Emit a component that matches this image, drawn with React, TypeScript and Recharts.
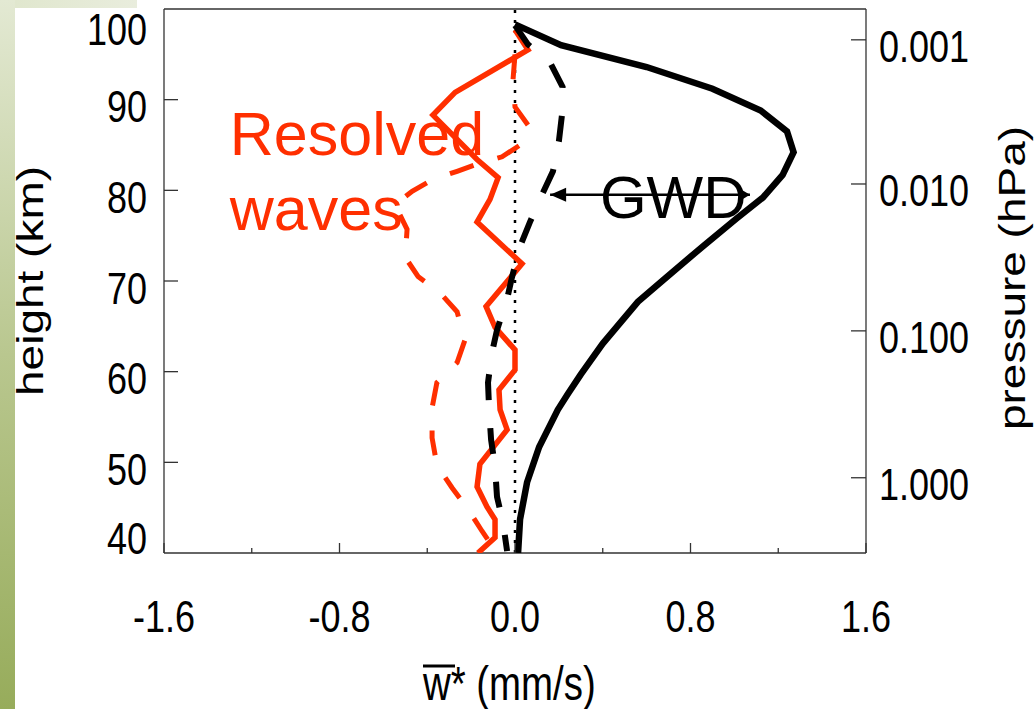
import React from 'react'
import { ScatterChart, Scatter, XAxis, YAxis, ReferenceLine, ReferenceDot } from 'recharts'

// height (km) / w* (mm/s) pairs
const gwdHeight = [98.3, 96.0, 93.6, 91.2, 88.8, 86.5, 84.2, 81.7, 79.2, 76.9, 73.9, 70.2, 67.7, 63.1, 59.7, 57.5, 55.8, 51.7, 47.8, 43.7, 40.0]
const gwdW = [0, 0.21, 0.6, 0.9, 1.12, 1.24, 1.27, 1.22, 1.13, 1.01, 0.86, 0.68, 0.56, 0.4, 0.3, 0.24, 0.195, 0.11, 0.055, 0.023, 0.014]

const gwdDashHeight = [98.2, 96.1, 94.1, 91.4, 88.3, 85.4, 82.1, 79.5, 76.5, 73.8, 70.4, 68.0, 64.6, 62.1, 58.8, 55.8, 52.5, 49.5, 46.2, 43.4, 40.2]
const gwdDashW = [0, 0.059, 0.16, 0.217, 0.214, 0.2, 0.173, 0.123, 0.068, 0.023, -0.014, -0.036, -0.082, -0.105, -0.123, -0.118, -0.109, -0.091, -0.082, -0.055, -0.036]

const resHeight = [97.7, 95.5, 90.8, 88.3, 83.4, 81.4, 79.0, 76.5, 71.9, 67.2, 64.9, 62.4, 60.2, 58.0, 55.8, 53.6, 49.8, 47.3, 45.1, 43.7, 41.7, 40.0]
const resW = [0, 0.059, -0.273, -0.374, -0.173, -0.077, -0.114, -0.173, 0.032, -0.132, -0.091, 0, 0, -0.073, -0.068, -0.036, -0.16, -0.173, -0.128, -0.091, -0.091, -0.169]

const resDashHeight = [95.0, 92.2, 89.2, 86.9, 85.2, 83.7, 83.0, 82.1, 81.2, 79.9, 78.4, 75.7, 72.6, 70.5, 68.7, 66.6, 63.5, 61.0, 58.8, 56.0, 52.7, 49.7, 47.2, 45.0, 42.4, 40.0]
const resDashW = [0, -0.009, 0, 0.068, 0.036, -0.059, -0.16, -0.264, -0.374, -0.469, -0.547, -0.492, -0.5, -0.442, -0.342, -0.264, -0.228, -0.264, -0.356, -0.378, -0.378, -0.356, -0.287, -0.219, -0.15, -0.082]

// arrow from the GWD label to the dashed curve
const arrowW = [1.071, 0.16]
const arrowHeight = [79.5, 79.5]

const xTicks = [-1.6, -1.2, -0.8, -0.4, 0, 0.4, 0.8, 1.2, 1.6]
const xLabels = ['-1.6', '-0.8', '0.0', '0.8', '1.6']
const yTicks = [40, 50, 60, 70, 80, 90, 100]
const pTicks = [96.6, 80.7, 64.5, 48.3]
const pLabels = ['0.001', '0.010', '0.100', '1.000']

const RED = '#ff2f00'
const AXIS = '#333'
const FONT = '"Liberation Sans", Arial, Helvetica, sans-serif'
const SQ = 0.8 // the original figure is squeezed horizontally

const pairs = (w: number[], h: number[]) => w.map((x, i) => ({ x, h: h[i] }))

const Sq = ({ x, y, anchor, size, children }: any) => (
  <text transform={`translate(${x},${y}) scale(${SQ},1)`} textAnchor={anchor} fontSize={size} fontFamily={FONT} fill="#000">
    {children}
  </text>
)

const isMajor = (v: number) => Math.abs(Math.round(v / 0.8) * 0.8 - v) < 1e-6

const BottomTick = (p: any) => {
  const v = p.payload.value
  const major = isMajor(v)
  const idx = Math.round((v + 1.6) / 0.8)
  return (
    <g>
      <line x1={p.x} x2={p.x} y1={p.y} y2={p.y - (major ? 10 : 5)} stroke={AXIS} strokeWidth={1.3} />
      {major && <Sq x={p.x} y={p.y + 79} anchor="middle" size={45}>{xLabels[idx]}</Sq>}
    </g>
  )
}

const TopTick = (p: any) => {
  const major = isMajor(p.payload.value)
  return <line x1={p.x} x2={p.x} y1={p.y} y2={p.y + (major ? 9 : 5)} stroke={AXIS} strokeWidth={1.3} />
}

const LeftTick = (p: any) => {
  const v = p.payload.value
  const first = v === yTicks[0]
  const last = v === yTicks[yTicks.length - 1]
  const dy = last ? 35.7 : first ? 1 : 22.5
  return (
    <g>
      {!first && !last && <line x1={p.x} x2={p.x + 14} y1={p.y} y2={p.y} stroke={AXIS} strokeWidth={1.3} />}
      <Sq x={p.x - 17} y={p.y + dy} anchor="end" size={45}>{v}</Sq>
    </g>
  )
}

const RightTick = (p: any) => {
  const i = pTicks.indexOf(p.payload.value)
  return (
    <g>
      <line x1={p.x - 15} x2={p.x} y1={p.y} y2={p.y} stroke={AXIS} strokeWidth={1.3} />
      <Sq x={p.x + 13} y={p.y + 22} anchor="start" size={45}>{pLabels[i]}</Sq>
    </g>
  )
}

const BottomTitle = (lp: any) => {
  const vb = lp.viewBox
  const x0 = vb.x + vb.width / 2 - 92
  const y0 = vb.y + 147
  return (
    <g>
      <line x1={x0} x2={x0 + 32} y1={y0 - 34} y2={y0 - 34} stroke="#000" strokeWidth={3} />
      <Sq x={x0} y={y0} anchor="start" size={48}>w* (mm/s)</Sq>
    </g>
  )
}

const VTitle = (text: string, dx: number, dy: number) => (lp: any) => {
  const vb = lp.viewBox
  return (
    <text
      transform={`translate(${vb.x + dx},${vb.y + vb.height / 2 + dy}) rotate(-90) scale(1,${SQ})`}
      textAnchor="middle"
      fontSize={46}
      fontFamily={FONT}
      fill="#000"
    >
      {text}
    </text>
  )
}

const noDot = () => <g />

const ArrowHead = (p: any) => {
  if (p.index === 1) {
    return <path d={`M${p.cx},${p.cy} l16,-7 l0,14 z`} fill="#000" />
  }
  return <path d={`M${p.cx},${p.cy} l-10,-6 l0,12 z`} fill="#000" />
}

const ResolvedLabel = (p: any) => (
  <text x={p.cx} y={p.cy} fontSize={61} fontFamily={FONT} fill={RED}>
    <tspan x={p.cx}>Resolved</tspan>
    <tspan x={p.cx} dy={75}>waves</tspan>
  </text>
)

const GwdLabel = (p: any) => (
  <text x={p.cx} y={p.cy} fontSize={60} fontFamily={FONT} fill="#000">
    GWD
  </text>
)

export default function App() {
  return (
    <div style={{ position: 'absolute', left: 0, top: 0, width: 1036, height: 709, background: '#fff' }}>
      <ScatterChart width={1036} height={709} margin={{ top: 0, right: 10, bottom: 0, left: 14 }}>
        <XAxis
          xAxisId="b"
          dataKey="x"
          type="number"
          domain={[-1.6, 1.6]}
          ticks={xTicks}
          interval={0}
          allowDataOverflow
          height={156}
          tickSize={0}
          tickMargin={0}
          tickLine={false}
          axisLine={{ stroke: AXIS, strokeWidth: 1.3 }}
          tick={<BottomTick />}
          label={{ content: BottomTitle }}
        />
        <XAxis
          xAxisId="t"
          orientation="top"
          type="number"
          domain={[-1.6, 1.6]}
          ticks={xTicks}
          interval={0}
          allowDataOverflow
          height={9}
          tickSize={0}
          tickMargin={0}
          tickLine={false}
          axisLine={{ stroke: AXIS, strokeWidth: 1.3 }}
          tick={<TopTick />}
        />
        <YAxis
          yAxisId="h"
          dataKey="h"
          type="number"
          domain={[40, 100]}
          ticks={yTicks}
          interval={0}
          allowDataOverflow
          width={150}
          tickSize={0}
          tickMargin={0}
          tickLine={false}
          axisLine={{ stroke: AXIS, strokeWidth: 1.3 }}
          tick={<LeftTick />}
          label={{ content: VTitle('height (km)', 29, 0) }}
        />
        <YAxis
          yAxisId="p"
          orientation="right"
          type="number"
          domain={[40, 100]}
          ticks={pTicks}
          interval={0}
          allowDataOverflow
          width={160}
          tickSize={0}
          tickMargin={0}
          tickLine={false}
          axisLine={{ stroke: AXIS, strokeWidth: 1.3 }}
          tick={<RightTick />}
          label={{ content: VTitle('pressure (hPa)', 159, -3) }}
        />
        <ReferenceLine xAxisId="b" yAxisId="h" x={0} stroke="#000" strokeWidth={2.5} strokeDasharray="3 7" />
        <Scatter
          xAxisId="b"
          yAxisId="h"
          data={pairs(resDashW, resDashHeight)}
          line={{ stroke: RED, strokeWidth: 5, strokeDasharray: '25 25' }}
          shape={noDot}
          isAnimationActive={false}
        />
        <Scatter
          xAxisId="b"
          yAxisId="h"
          data={pairs(resW, resHeight)}
          line={{ stroke: RED, strokeWidth: 5.5 }}
          shape={noDot}
          isAnimationActive={false}
        />
        <Scatter
          xAxisId="b"
          yAxisId="h"
          data={pairs(gwdDashW, gwdDashHeight)}
          line={{ stroke: '#000', strokeWidth: 6, strokeDasharray: '26 28' }}
          shape={noDot}
          isAnimationActive={false}
        />
        <Scatter
          xAxisId="b"
          yAxisId="h"
          data={pairs(gwdW, gwdHeight)}
          line={{ stroke: '#000', strokeWidth: 6.5 }}
          shape={noDot}
          isAnimationActive={false}
        />
        <ReferenceDot xAxisId="b" yAxisId="h" x={-1.3} y={83.9} r={0} shape={ResolvedLabel} />
        <ReferenceDot xAxisId="b" yAxisId="h" x={0.387} y={76.9} r={0} shape={GwdLabel} />
        <Scatter
          xAxisId="b"
          yAxisId="h"
          data={pairs(arrowW, arrowHeight)}
          line={{ stroke: '#000', strokeWidth: 2.5 }}
          shape={ArrowHead}
          isAnimationActive={false}
        />
      </ScatterChart>
      <div style={{ position: 'absolute', left: 0, top: 0, width: 137, height: 8, background: 'linear-gradient(90deg, #dfe6cc, #e9eddd)' }} />
      <div style={{ position: 'absolute', left: 0, top: 0, width: 15, height: 709, background: 'linear-gradient(180deg, #e3e9d3, #b9c78f 50%, #97ac5b)' }} />
    </div>
  )
}
